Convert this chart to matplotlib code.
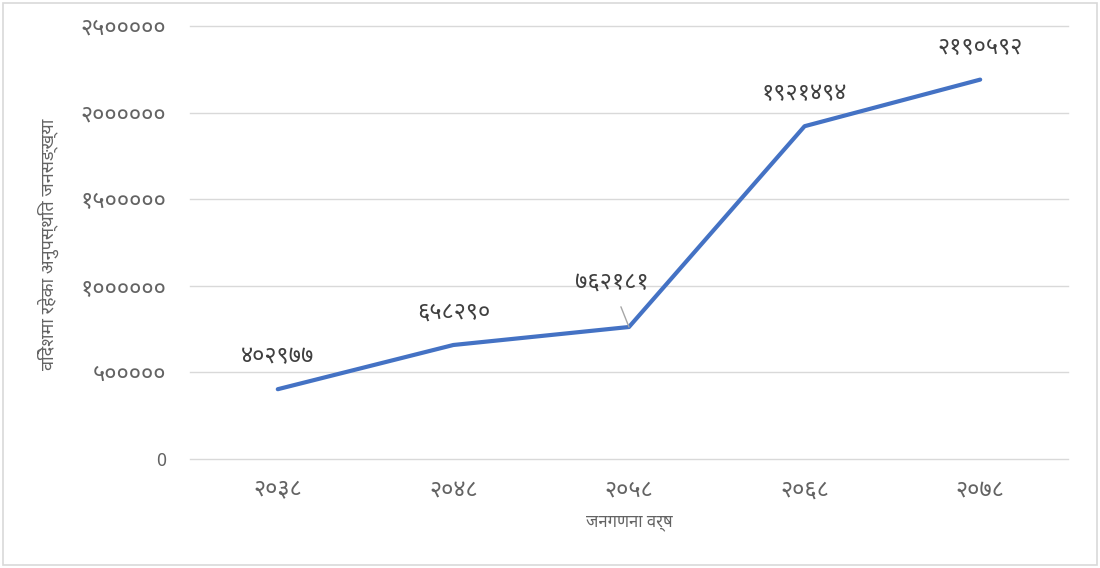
import matplotlib
matplotlib.use('Agg')
import matplotlib.pyplot as plt
from matplotlib.patches import Rectangle

plt.rcParams['font.family'] = ['Noto Sans Devanagari', 'Lohit Devanagari', 'Mukta', 'FreeSans', 'Noto Sans', 'DejaVu Sans']

# जनगणना वर्ष र विदेशमा रहेका अनुपस्थित जनसङ्ख्या
years = ['२०३८', '२०४८', '२०५८', '२०६८', '२०७८']
absent = [402977, 658290, 762181, 1921494, 2190592]
point_labels = ['४०२९७७', '६५८२९०', '७६२१८१', '१९२१४९४', '२१९०५९२']
yticks = [0, 500000, 1000000, 1500000, 2000000, 2500000]
ytick_labels = ['0', '५०००००', '१००००००', '१५०००००', '२००००००', '२५०००००']

grey = '#636363'

fig = plt.figure(figsize=(11, 5.68), dpi=100)
ax = fig.add_axes([0.1727, 0.1919, 0.7982, 0.7623])

x = list(range(len(years)))
ax.plot(x, absent, color='#4472C4', lw=3, solid_capstyle='round', zorder=3)

ax.set_xlim(-0.5, len(years) - 0.5)
ax.set_ylim(0, 2500000)
ax.set_yticks(yticks)
ax.set_yticklabels(ytick_labels)
ax.set_xticks(x)
ax.set_xticklabels(years)
ax.tick_params(axis='both', length=0, labelsize=17, colors=grey)
ax.tick_params(axis='y', pad=17)
ax.tick_params(axis='x', pad=14)
ax.get_yticklabels()[0].set_fontsize(13)
ax.grid(axis='y', color='#D9D9D9', lw=1)
for gl in ax.get_ygridlines():
    gl.set_clip_on(False)
ax.set_axisbelow(True)
for s in ax.spines.values():
    s.set_visible(False)

for i, (v, lab) in enumerate(zip(absent, point_labels)):
    if i == 2:
        ax.annotate(lab, xy=(i, v), xytext=(i - 0.1, v + 254000),
                    ha='center', va='center', fontsize=17, color='#404040',
                    arrowprops=dict(arrowstyle='-', color='#A6A6A6', lw=1,
                                    shrinkA=7, shrinkB=0))
    else:
        ax.annotate(lab, xy=(i, v), xytext=(0, 23), textcoords='offset points',
                    ha='center', va='center', fontsize=17, color='#404040')

ax.set_xlabel('जनगणना वर्ष', fontsize=12, color=grey, labelpad=9)
fig.text(0.044, 0.569, 'विदेशमा रहेका अनुपस्थित जनसङ्ख्या', rotation=90,
         ha='center', va='center', fontsize=13, color=grey)

fig.patches.append(Rectangle((0.003, 0.005), 0.994, 0.99, transform=fig.transFigure,
                             fill=False, edgecolor='#D9D9D9', lw=1.2))

fig.savefig('out.png', dpi=100)
